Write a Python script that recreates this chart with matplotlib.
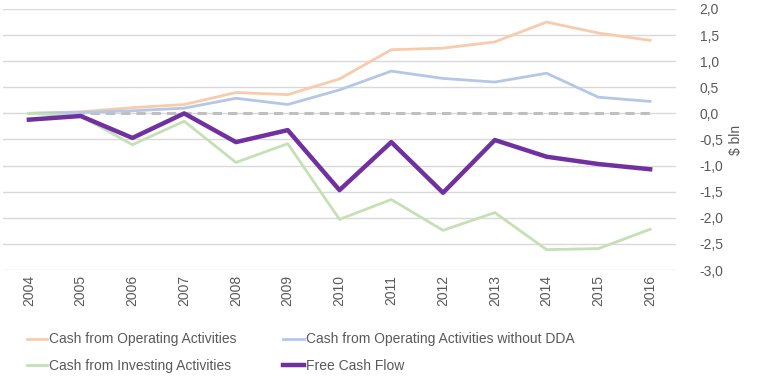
import matplotlib
matplotlib.use("Agg")
import matplotlib.pyplot as plt
from matplotlib.ticker import FuncFormatter

years = [str(y) for y in range(2004, 2017)]
cash_operating = [0.0, 0.03, 0.11, 0.17, 0.40, 0.36, 0.66, 1.22, 1.25, 1.37, 1.75, 1.54, 1.40]
cash_operating_no_dda = [0.0, 0.02, 0.05, 0.10, 0.29, 0.17, 0.45, 0.81, 0.67, 0.60, 0.77, 0.31, 0.23]
cash_investing = [0.0, -0.05, -0.60, -0.15, -0.94, -0.58, -2.03, -1.65, -2.24, -1.90, -2.61, -2.59, -2.22]
free_cash_flow = [-0.12, -0.05, -0.47, 0.0, -0.55, -0.32, -1.47, -0.55, -1.52, -0.51, -0.83, -0.97, -1.07]
zero_line = [0.0] * len(years)

plt.rcParams["font.family"] = ["Liberation Sans", "DejaVu Sans"]
txt = "#595959"

fig = plt.figure(figsize=(7.62, 3.81), dpi=100)
ax = fig.add_axes([3 / 762, 1 - 270 / 381, 673 / 762, 261 / 381])

x = list(range(len(years)))
ax.plot(x, zero_line, color="#BFBFBF", lw=2.2, ls=(0, (3, 2)), zorder=2)
l1, = ax.plot(x, cash_operating, color="#F8CBAD", lw=2, label="Cash from Operating Activities", zorder=3)
l2, = ax.plot(x, cash_operating_no_dda, color="#B4C7E7", lw=2, label="Cash from Operating Activities without DDA", zorder=3)
l3, = ax.plot(x, cash_investing, color="#C5E0B4", lw=2, label="Cash from Investing Activities", zorder=3)
l4, = ax.plot(x, free_cash_flow, color="#7030A0", lw=3.2, label="Free Cash Flow", zorder=4)

ax.set_xlim(-0.5, len(years) - 0.5)
ax.set_ylim(-3.0, 2.0)
ax.set_yticks([-3.0 + 0.5 * i for i in range(11)])
ax.yaxis.set_major_formatter(FuncFormatter(lambda v, p: f"{v:.1f}".replace(".", ",")))
ax.yaxis.tick_right()
ax.yaxis.set_label_position("right")
ax.set_ylabel("$ bln", color=txt, fontsize=10, labelpad=4)
ax.grid(axis="y", color="#D9D9D9", lw=1)
ax.set_axisbelow(True)
ax.set_xticks(x)
ax.set_xticklabels(years, rotation=90)
ax.tick_params(axis="both", length=0, colors=txt, labelsize=10)
ax.tick_params(axis="y", pad=17)
for s in ax.spines.values():
    s.set_visible(False)

# legend fills column-wise, so order handles to read row by row
fig.legend(handles=[l1, l3, l2, l4], loc="upper left", bbox_to_anchor=(14 / 762, 1 - 320 / 381),
           ncol=2, frameon=False, fontsize=10, labelcolor=txt, handlelength=1.5,
           handletextpad=0.1, columnspacing=3.4, labelspacing=0.9)

fig.savefig("out.png", dpi=100)
